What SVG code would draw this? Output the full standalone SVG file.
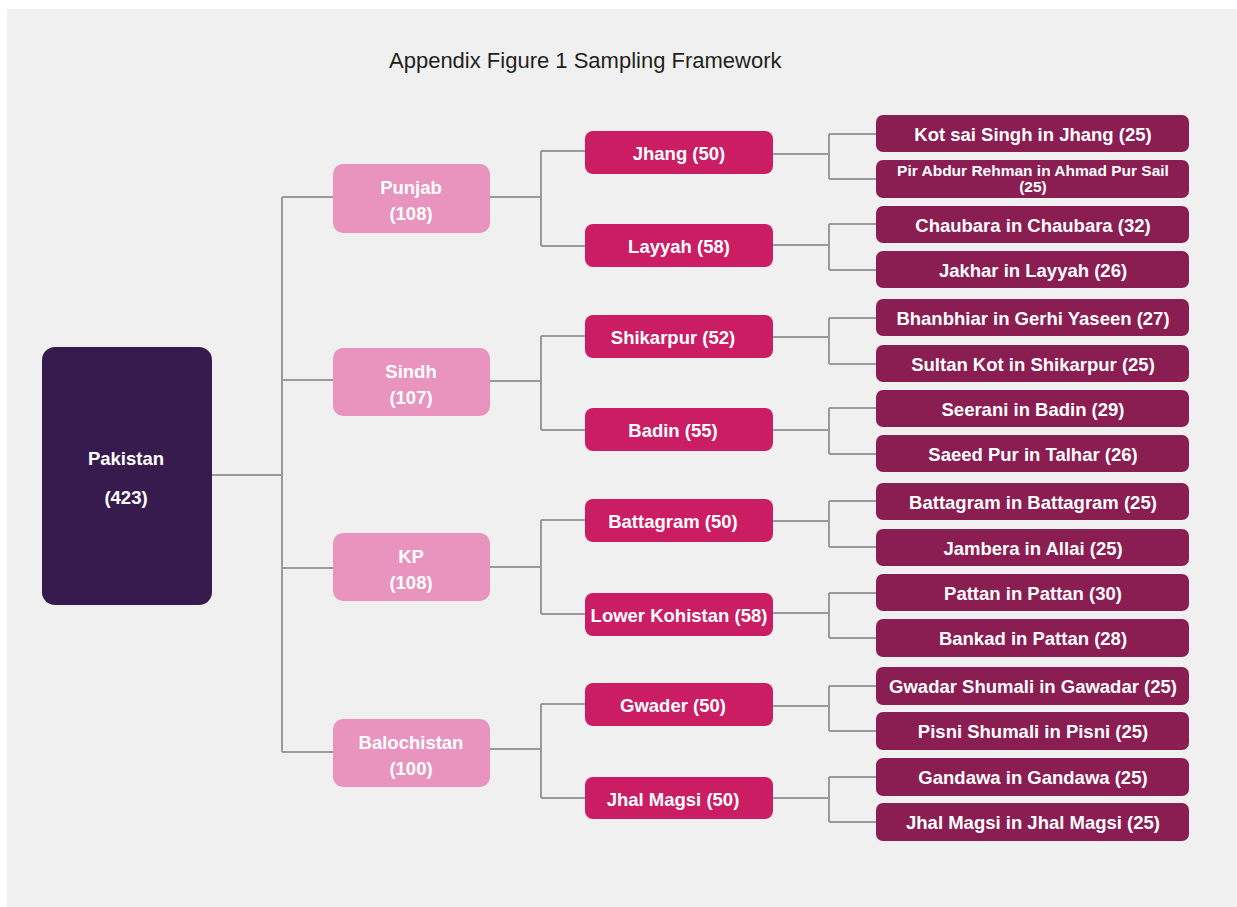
<svg xmlns="http://www.w3.org/2000/svg" width="1237" height="907" viewBox="0 0 1237 907">
<style>
.bg{fill:#f0f0f0}
.conn{fill:none;stroke:#9a9a9a;stroke-width:2}
.root{fill:#371a4e}
.prov{fill:#e894be}
.dist{fill:#cb1d64}
.leaf{fill:#8a1d52}
text{font-family:"Liberation Sans",Arial,sans-serif;font-weight:bold;fill:#ffffff;text-anchor:middle;font-size:18.5px}
.title{font-weight:normal;fill:#231f20;font-size:22px;text-anchor:start}
.small{font-size:15.5px}
</style>
<rect class="bg" x="7" y="9" width="1230" height="898"/>
<text class="title" x="389" y="68">Appendix Figure 1 Sampling Framework</text>
<g id="connectors">
<path class="conn" d="M211 475H282M282 197V752M282 197H333M282 380H333M282 568H333M282 752H333"/>
<path class="conn" d="M490 197H541M541 151V246M541 151H585M541 246H585"/>
<path class="conn" d="M490 381H541M541 336V430M541 336H585M541 430H585"/>
<path class="conn" d="M490 567H541M541 520V614M541 520H585M541 614H585"/>
<path class="conn" d="M490 749H541M541 704V798M541 704H585M541 798H585"/>
<path class="conn" d="M773 154H829M829 134V179M829 134H876M829 179H876"/>
<path class="conn" d="M773 245H829M829 224V270M829 224H876M829 270H876"/>
<path class="conn" d="M773 337H829M829 318V364M829 318H876M829 364H876"/>
<path class="conn" d="M773 430H829M829 408V454M829 408H876M829 454H876"/>
<path class="conn" d="M773 521H829M829 501V547M829 501H876M829 547H876"/>
<path class="conn" d="M773 613H829M829 593V638M829 593H876M829 638H876"/>
<path class="conn" d="M773 706H829M829 686V731M829 686H876M829 731H876"/>
<path class="conn" d="M773 798H829M829 777V822M829 777H876M829 822H876"/>
</g>
<g id="pakistan"><rect class="root" x="42" y="347" width="170" height="258" rx="13"/><text x="126" y="465">Pakistan</text><text x="126" y="504">(423)</text></g>
<g id="punjab"><rect class="prov" x="333" y="164" width="157" height="69" rx="10"/><text x="411" y="194">Punjab</text><text x="411" y="220">(108)</text></g>
<g id="sindh"><rect class="prov" x="333" y="348" width="157" height="68" rx="10"/><text x="411" y="378">Sindh</text><text x="411" y="404">(107)</text></g>
<g id="kp"><rect class="prov" x="333" y="533" width="157" height="68" rx="10"/><text x="411" y="563">KP</text><text x="411" y="589">(108)</text></g>
<g id="balochistan"><rect class="prov" x="333" y="719" width="157" height="68" rx="10"/><text x="411" y="749">Balochistan</text><text x="411" y="775">(100)</text></g>
<g id="jhang"><rect class="dist" x="585" y="131" width="188" height="43" rx="8"/><text x="679" y="160">Jhang (50)</text></g>
<g id="layyah"><rect class="dist" x="585" y="224" width="188" height="43" rx="8"/><text x="679" y="253">Layyah (58)</text></g>
<g id="shikarpur"><rect class="dist" x="585" y="315" width="188" height="43" rx="8"/><text x="673" y="344">Shikarpur (52)</text></g>
<g id="badin"><rect class="dist" x="585" y="408" width="188" height="43" rx="8"/><text x="673" y="437">Badin (55)</text></g>
<g id="battagram"><rect class="dist" x="585" y="499" width="188" height="43" rx="8"/><text x="673" y="528">Battagram (50)</text></g>
<g id="lowerkohistan"><rect class="dist" x="585" y="593" width="188" height="43" rx="8"/><text x="679" y="622">Lower Kohistan (58)</text></g>
<g id="gwader"><rect class="dist" x="585" y="683" width="188" height="43" rx="8"/><text x="673" y="712">Gwader (50)</text></g>
<g id="jhalmagsi"><rect class="dist" x="585" y="777" width="188" height="42" rx="8"/><text x="673" y="806">Jhal Magsi (50)</text></g>
<g id="leaf1"><rect class="leaf" x="876" y="115" width="313" height="37" rx="7"/><text x="1033" y="141">Kot sai Singh in Jhang (25)</text></g>
<g id="leaf2"><rect class="leaf" x="876" y="160" width="313" height="38" rx="7"/><text class="small" x="1033" y="176">Pir Abdur Rehman in Ahmad Pur Sail</text><text class="small" x="1033" y="192">(25)</text></g>
<g id="leaf3"><rect class="leaf" x="876" y="206" width="313" height="37" rx="7"/><text x="1033" y="232">Chaubara in Chaubara (32)</text></g>
<g id="leaf4"><rect class="leaf" x="876" y="251" width="313" height="37" rx="7"/><text x="1033" y="277">Jakhar in Layyah (26)</text></g>
<g id="leaf5"><rect class="leaf" x="876" y="299" width="313" height="37" rx="7"/><text x="1033" y="325">Bhanbhiar in Gerhi Yaseen (27)</text></g>
<g id="leaf6"><rect class="leaf" x="876" y="345" width="313" height="37" rx="7"/><text x="1033" y="371">Sultan Kot in Shikarpur (25)</text></g>
<g id="leaf7"><rect class="leaf" x="876" y="390" width="313" height="37" rx="7"/><text x="1033" y="416">Seerani in Badin (29)</text></g>
<g id="leaf8"><rect class="leaf" x="876" y="435" width="313" height="37" rx="7"/><text x="1033" y="461">Saeed Pur in Talhar (26)</text></g>
<g id="leaf9"><rect class="leaf" x="876" y="483" width="313" height="37" rx="7"/><text x="1033" y="509">Battagram in Battagram (25)</text></g>
<g id="leaf10"><rect class="leaf" x="876" y="529" width="313" height="37" rx="7"/><text x="1033" y="555">Jambera in Allai (25)</text></g>
<g id="leaf11"><rect class="leaf" x="876" y="574" width="313" height="37" rx="7"/><text x="1033" y="600">Pattan in Pattan (30)</text></g>
<g id="leaf12"><rect class="leaf" x="876" y="619" width="313" height="38" rx="7"/><text x="1033" y="645">Bankad in Pattan (28)</text></g>
<g id="leaf13"><rect class="leaf" x="876" y="667" width="313" height="38" rx="7"/><text x="1033" y="693">Gwadar Shumali in Gawadar (25)</text></g>
<g id="leaf14"><rect class="leaf" x="876" y="712" width="313" height="38" rx="7"/><text x="1033" y="738">Pisni Shumali in Pisni (25)</text></g>
<g id="leaf15"><rect class="leaf" x="876" y="758" width="313" height="38" rx="7"/><text x="1033" y="784">Gandawa in Gandawa (25)</text></g>
<g id="leaf16"><rect class="leaf" x="876" y="803" width="313" height="38" rx="7"/><text x="1033" y="829">Jhal Magsi in Jhal Magsi (25)</text></g>
</svg>
